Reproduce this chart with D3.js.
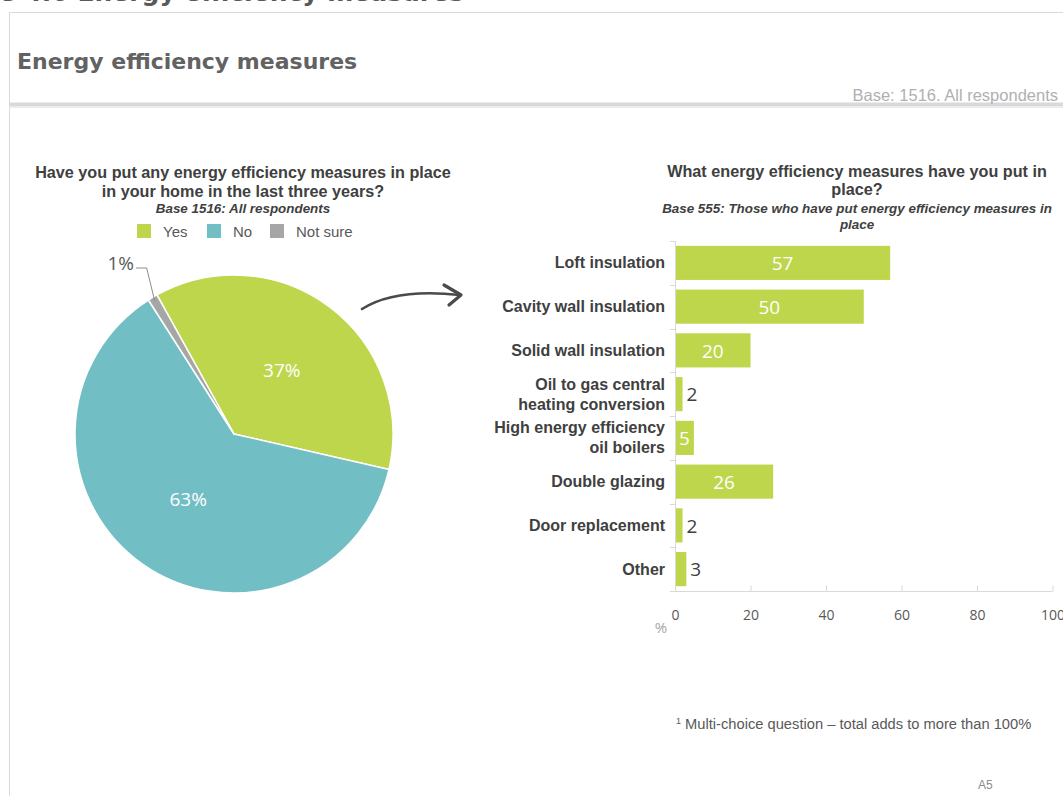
<!DOCTYPE html>
<html>
<head>
<meta charset="utf-8">
<script src="https://cdn.jsdelivr.net/npm/d3@7"></script>
<style>
  html, body { margin: 0; padding: 0; background: #ffffff; }
  svg { display: block; }
</style>
</head>
<body>
<svg id="chart" width="1063" height="796"></svg>
<script>
// ---- Data ----
const pieLabels = ["Yes", "No", "Not sure"];
const pieValues = [37, 63, 1];
const pieColors = ["#bdd64b", "#72bec5", "#a6a6a6"];

const measureCategories = [
  ["Loft insulation"],
  ["Cavity wall insulation"],
  ["Solid wall insulation"],
  ["Oil to gas central", "heating conversion"],
  ["High energy efficiency", "oil boilers"],
  ["Double glazing"],
  ["Door replacement"],
  ["Other"]
];
const measureValues = [57, 50, 20, 2, 5, 26, 2, 3];
const xTicks = [0, 20, 40, 60, 80, 100];

const textDark = "#404040";
const textMid = "#595959";
const barColor = "#bdd64b";

const svg = d3.select("#chart");

// ---- Page frame and header ----
svg.append("text")
  .attr("x", 464).attr("y", 1)
  .attr("text-anchor", "end")
  .attr("font-family", "DejaVu Sans")
  .attr("font-weight", "bold")
  .attr("font-size", 25)
  .attr("fill", "#595959")
  .text("Figure 4.6 Energy efficiency measures");

svg.append("rect")
  .attr("x", 9.5).attr("y", 12.5)
  .attr("width", 1100).attr("height", 900)
  .attr("fill", "none")
  .attr("stroke", "#d9d9d9").attr("stroke-width", 1);

svg.append("line")
  .attr("x1", 9).attr("x2", 1063)
  .attr("y1", 104.5).attr("y2", 104.5)
  .attr("stroke", "#d9d9d9").attr("stroke-width", 4);
svg.append("line")
  .attr("x1", 9).attr("x2", 1063)
  .attr("y1", 107.5).attr("y2", 107.5)
  .attr("stroke", "#ececec").attr("stroke-width", 1);

svg.append("text")
  .attr("x", 17).attr("y", 69)
  .attr("font-family", "DejaVu Sans")
  .attr("font-weight", "bold")
  .attr("font-size", 22)
  .attr("fill", "#626262")
  .text("Energy efficiency measures");

svg.append("text")
  .attr("x", 1058).attr("y", 101)
  .attr("text-anchor", "end")
  .attr("font-family", "Liberation Sans, Arial, sans-serif")
  .attr("font-size", 16.5)
  .attr("fill", "#b0b0b0")
  .text("Base: 1516. All respondents");

// ---- Pie chart ----
const pieTitle = svg.append("g")
  .attr("font-family", "Liberation Sans, Arial, sans-serif")
  .attr("text-anchor", "middle")
  .attr("fill", textDark);
pieTitle.append("text").attr("x", 243).attr("y", 178)
  .attr("font-weight", "bold").attr("font-size", 16.2)
  .text("Have you put any energy efficiency measures in place");
pieTitle.append("text").attr("x", 243).attr("y", 197)
  .attr("font-weight", "bold").attr("font-size", 16.2)
  .text("in your home in the last three years?");
pieTitle.append("text").attr("x", 243).attr("y", 213)
  .attr("font-weight", "bold").attr("font-style", "italic").attr("font-size", 13.4)
  .text("Base 1516: All respondents");

// legend
const legendX = [137, 207, 270];
const legend = svg.append("g")
  .attr("font-family", "Liberation Sans, Arial, sans-serif")
  .attr("font-size", 15)
  .attr("fill", textMid);
pieLabels.forEach((lab, i) => {
  legend.append("rect")
    .attr("x", legendX[i]).attr("y", 224)
    .attr("width", 14).attr("height", 14)
    .attr("fill", pieColors[i]);
  legend.append("text")
    .attr("x", legendX[i] + 26).attr("y", 236.5)
    .text(lab);
});

const cx = 234, cy = 434, radius = 159;
const startDeg = -29;
const pie = d3.pie()
  .sort(null)
  .startAngle(startDeg * Math.PI / 180)
  .endAngle(startDeg * Math.PI / 180 + 2 * Math.PI)
  .value(d => d);
const arcs = pie(pieValues);
const arc = d3.arc().innerRadius(0).outerRadius(radius);

const pieG = svg.append("g").attr("transform", `translate(${cx},${cy})`);
pieG.selectAll("path")
  .data(arcs)
  .join("path")
  .attr("d", arc)
  .attr("fill", (d, i) => pieColors[i])
  .attr("stroke", "#ffffff")
  .attr("stroke-width", 1.5)
  .attr("stroke-linejoin", "round");

// slice labels inside (Yes, No)
const labelArc = d3.arc().innerRadius(radius * 0.5).outerRadius(radius * 0.5);
pieG.selectAll("text.inside")
  .data(arcs.slice(0, 2))
  .join("text")
  .attr("class", "inside")
  .attr("transform", d => `translate(${labelArc.centroid(d)})`)
  .attr("text-anchor", "middle")
  .attr("dy", "0.36em")
  .attr("font-family", "Open Sans, sans-serif")
  .attr("font-size", 19)
  .attr("fill", "#ffffff")
  .text(d => d.data + "%");

// small slice label with leader line
const small = arcs[2];
const midA = (small.startAngle + small.endAngle) / 2;
const edgeR = radius - 4;
const ex = Math.sin(midA) * edgeR, ey = -Math.cos(midA) * edgeR;
pieG.append("polyline")
  .attr("points", `${ex},${ey} ${ex - 8},${-166} ${-98},${-166}`)
  .attr("fill", "none")
  .attr("stroke", "#8c8c8c")
  .attr("stroke-width", 1);
pieG.append("text")
  .attr("x", -100).attr("y", -164)
  .attr("text-anchor", "end")
  .attr("font-family", "Open Sans, sans-serif")
  .attr("font-size", 19)
  .attr("fill", textMid)
  .text(pieValues[2] + "%");

// curved arrow linking the two panels
const arrowG = svg.append("g")
  .attr("fill", "none")
  .attr("stroke", "#4a4a4a")
  .attr("stroke-linecap", "round")
  .attr("stroke-linejoin", "round");
arrowG.append("path")
  .attr("d", "M362,309 Q395,288 460,295")
  .attr("stroke-width", 2.6);
arrowG.append("path")
  .attr("d", "M444,285 L461,295 L449,305")
  .attr("stroke-width", 3.2);

// ---- Bar chart ----
const barLeft = 675, barRight = 1052.5, barTop = 241, barBottom = 591;

const x = d3.scaleLinear().domain([0, 100]).range([barLeft, barRight]);
const y = d3.scaleBand()
  .domain(measureCategories.map((d, i) => i))
  .range([barTop, barBottom])
  .paddingInner(0.22)
  .paddingOuter(0.11);

const barTitle = svg.append("g")
  .attr("font-family", "Liberation Sans, Arial, sans-serif")
  .attr("text-anchor", "middle")
  .attr("fill", textDark);
barTitle.append("text").attr("x", 857).attr("y", 177)
  .attr("font-weight", "bold").attr("font-size", 16.2)
  .text("What energy efficiency measures have you put in");
barTitle.append("text").attr("x", 857).attr("y", 195)
  .attr("font-weight", "bold").attr("font-size", 16.2)
  .text("place?");
barTitle.append("text").attr("x", 857).attr("y", 213)
  .attr("font-weight", "bold").attr("font-style", "italic").attr("font-size", 13.4)
  .text("Base 555: Those who have put energy efficiency measures in");
barTitle.append("text").attr("x", 857).attr("y", 229)
  .attr("font-weight", "bold").attr("font-style", "italic").attr("font-size", 13.4)
  .text("place");

// bars
svg.append("g")
  .selectAll("rect")
  .data(measureValues)
  .join("rect")
  .attr("x", x(0))
  .attr("y", (d, i) => y(i))
  .attr("width", d => x(d) - x(0))
  .attr("height", y.bandwidth())
  .attr("fill", barColor);

// value labels: inside (white) when the bar is wide enough, otherwise outside
svg.append("g")
  .attr("font-family", "Open Sans, sans-serif")
  .attr("font-size", 19)
  .selectAll("text")
  .data(measureValues)
  .join("text")
  .attr("x", d => d >= 5 ? (x(0) + x(d)) / 2 : x(d) + 4)
  .attr("y", (d, i) => y(i) + y.bandwidth() / 2)
  .attr("dy", "0.38em")
  .attr("text-anchor", d => d >= 5 ? "middle" : "start")
  .attr("fill", d => d >= 5 ? "#ffffff" : textDark)
  .text(d => d);

// vertical category axis
const axisColor = "#d9d9d9";
svg.append("line")
  .attr("x1", barLeft + 0.5).attr("x2", barLeft + 0.5)
  .attr("y1", barTop).attr("y2", barBottom)
  .attr("stroke", axisColor);
const catEdges = d3.range(measureCategories.length + 1)
  .map(i => barTop + i * (barBottom - barTop) / measureCategories.length);
svg.append("g").selectAll("line")
  .data(catEdges)
  .join("line")
  .attr("x1", barLeft - 5).attr("x2", barLeft)
  .attr("y1", d => Math.round(d) + 0.5).attr("y2", d => Math.round(d) + 0.5)
  .attr("stroke", axisColor);

// category labels
const catG = svg.append("g")
  .attr("font-family", "Liberation Sans, Arial, sans-serif")
  .attr("font-weight", "bold")
  .attr("font-size", 16)
  .attr("fill", textDark)
  .attr("text-anchor", "end");
measureCategories.forEach((lines, i) => {
  const mid = y(i) + y.bandwidth() / 2;
  const t = catG.append("text").attr("x", 665);
  lines.forEach((ln, j) => {
    t.append("tspan")
      .attr("x", 665)
      .attr("y", mid + 5.5 + (j - (lines.length - 1) / 2) * 20)
      .text(ln);
  });
});

// horizontal value axis
const xAxis = d3.axisBottom(x)
  .tickValues(xTicks)
  .tickSize(-6)
  .tickPadding(19)
  .tickFormat(d3.format("d"));
const xAxisG = svg.append("g")
  .attr("transform", `translate(0,${barBottom + 0.5})`)
  .call(xAxis);
xAxisG.select(".domain")
  .attr("d", `M${barLeft - 5},0H${barRight}`)
  .attr("stroke", axisColor);
xAxisG.selectAll(".tick line").attr("stroke", axisColor);
xAxisG.selectAll(".tick text")
  .attr("font-family", "Open Sans, sans-serif")
  .attr("font-size", 14)
  .attr("fill", textMid);

svg.append("text")
  .attr("x", 661).attr("y", 633)
  .attr("text-anchor", "middle")
  .attr("font-family", "Open Sans, sans-serif")
  .attr("font-size", 15)
  .attr("fill", "#a6a6a6")
  .text("%");

// footnote and page marker
const foot = svg.append("text")
  .attr("x", 676).attr("y", 729)
  .attr("font-family", "Liberation Sans, Arial, sans-serif")
  .attr("font-size", 14.7)
  .attr("fill", textMid);
foot.append("tspan").attr("font-size", 9).attr("dy", -5).text("1");
foot.append("tspan").attr("dy", 5).text(" Multi-choice question \u2013 total adds to more than 100%");

svg.append("text")
  .attr("x", 978).attr("y", 789)
  .attr("font-family", "Liberation Sans Narrow, Liberation Sans, Arial, sans-serif")
  .attr("font-size", 12)
  .attr("fill", "#8c8c8c")
  .text("A5");
</script>
</body>
</html>
